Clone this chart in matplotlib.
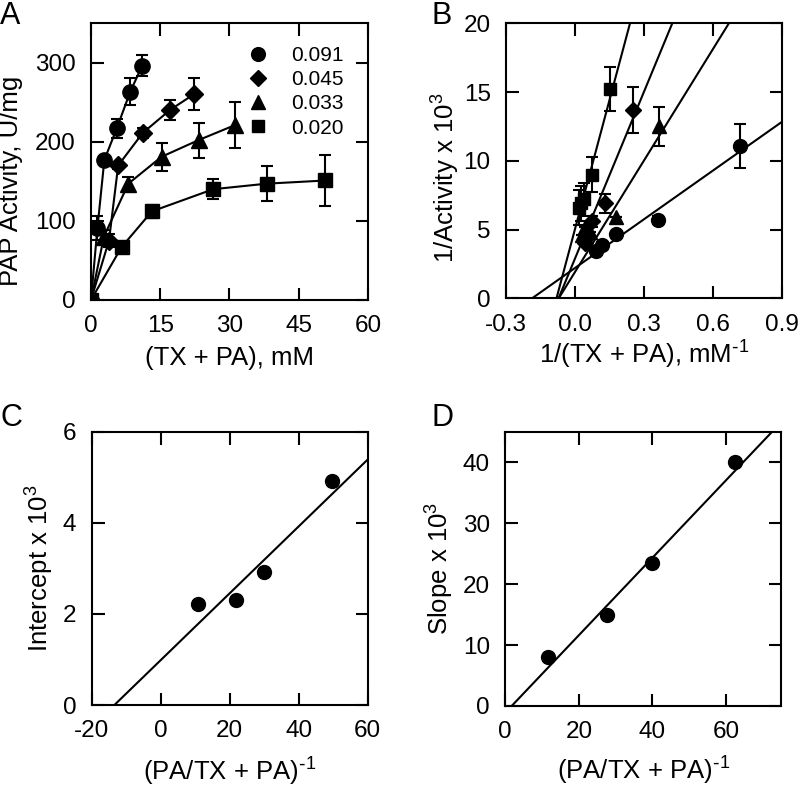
import matplotlib
matplotlib.use("Agg")
import matplotlib.pyplot as plt
import numpy as np

plt.rcParams.update({
    "font.family": "Liberation Sans", "font.size": 17,
    "mathtext.default": "regular",
    "axes.unicode_minus": False,
    "axes.linewidth": 1.5,
    "xtick.direction": "in", "ytick.direction": "in",
    "xtick.top": True, "ytick.right": True,
    "xtick.major.size": 9, "ytick.major.size": 9,
    "xtick.major.width": 1.5, "ytick.major.width": 1.5,
    "xtick.major.pad": 11, "ytick.major.pad": 11,
    "xtick.labelsize": 17.5, "ytick.labelsize": 17.5,
})

# ---- panel A: activity vs (TX + PA)
LEGEND = ["0.091", "0.045", "0.033", "0.020"]
MARKS = ["o", "D", "^", "s"]
MSIZE = [11, 9, 11, 10]

a_x = [
    [0, 1.4, 2.9, 5.6, 8.5, 11.1],
    [0, 3.9, 5.9, 11.2, 17.1, 22.3],
    [0, 2.8, 8.1, 15.3, 23.3, 31.2],
    [0, 6.65, 13.2, 26.5, 38.1, 50.8],
]
a_y = [
    [0, 91, 177, 217, 263, 296],
    [0, 75, 170, 211, 240, 260],
    [0, 80, 147, 181, 202, 221],
    [0, 67, 112, 140, 147, 151],
]
a_err = [
    [0, 15, 4, 12, 17, 13],
    [0, 8, 5, 6, 13, 20],
    [0, 8, 8, 18, 22, 29],
    [0, 5, 8, 13, 22, 32],
]

# ---- panel B: double reciprocal
b_x = [
    [0.09, 0.12, 0.18, 0.36, 0.72],
    [0.045, 0.058, 0.075, 0.13, 0.255],
    [0.032, 0.043, 0.065, 0.18, 0.365],
    [0.02, 0.026, 0.038, 0.076, 0.152],
]
b_y = [
    [3.45, 3.85, 4.7, 5.7, 11.1],
    [4.0, 4.5, 5.6, 6.9, 13.7],
    [4.6, 5.2, 4.8, 5.95, 12.5],
    [6.6, 6.9, 7.2, 9.0, 15.2],
]
b_err = [
    [0, 0, 0, 0.3, 1.6],
    [0, 0, 0.4, 0.7, 1.7],
    [0, 0, 0, 0, 1.4],
    [1.3, 1.3, 1.2, 1.3, 1.6],
]
# fitted lines: (intercept, slope)
b_fit = [(2.2, 11.8), (2.87, 40.4), (1.9, 27.0), (5.0, 62.5)]

# ---- panel C: intercept replot
c_x = [10.9, 21.8, 29.95, 49.6]
c_y = [2.21, 2.30, 2.91, 4.92]
c_fit = (0.985, 0.0734)

# ---- panel D: slope replot
d_x = [11.75, 27.7, 39.8, 62.6]
d_y = [8.1, 15.0, 23.4, 40.0]
d_fit = (-1.1, 0.635)

fig = plt.figure(figsize=(7.98, 7.88), dpi=100)
axA = fig.add_axes([0.114, 0.6193, 0.347, 0.3515])
axB = fig.add_axes([0.634, 0.6214, 0.3455, 0.349])
axC = fig.add_axes([0.1149, 0.1053, 0.3459, 0.3469])
axD = fig.add_axes([0.6332, 0.1041, 0.3455, 0.3481])

ebkw = dict(color="black", ecolor="black", elinewidth=1.5, capsize=4,
            capthick=1.5, linewidth=1.5)
LBL = 18.5
SUP = r"$^{\text{-}1}$"

# A
for xs, ys, es, m, ms, lab in zip(a_x, a_y, a_err, MARKS, MSIZE, LEGEND):
    axA.errorbar(xs, ys, yerr=es, fmt="-" + m, markersize=ms, **ebkw)
    axA.plot([], [], m, color="black", markersize=ms * 0.9, label=lab)
axA.set_xlim(0, 60)
axA.set_ylim(0, 350)
axA.set_xticks([0, 15, 30, 45, 60])
axA.set_yticks([0, 100, 200, 300])
axA.set_xlabel("(TX + PA), mM", fontsize=LBL)
axA.set_ylabel("PAP Activity, U/mg", fontsize=LBL)
axA.xaxis.set_label_coords(0.5, -0.166)
axA.yaxis.set_label_coords(-0.245, 0.43)
axA.legend(loc="upper right", frameon=False, fontsize=15, handletextpad=0.6,
           labelspacing=0.25, borderaxespad=0.3, bbox_to_anchor=(0.965, 0.97))

# B
xx = np.array([-0.3, 0.9])
for (b0, b1) in b_fit:
    axB.plot(xx, b0 + b1 * xx, color="black", linewidth=1.5)
for xs, ys, es, m, ms in zip(b_x, b_y, b_err, MARKS, MSIZE):
    axB.errorbar(xs, ys, yerr=es, fmt=m, markersize=ms - 1, **ebkw)
axB.set_xlim(-0.3, 0.9)
axB.set_ylim(0, 20)
axB.set_xticks([-0.3, 0.0, 0.3, 0.6, 0.9])
axB.set_xticklabels(["-0.3", "0.0", "0.3", "0.6", "0.9"])
axB.set_yticks([0, 5, 10, 15, 20])
axB.set_xlabel("1/(TX + PA), mM" + SUP, fontsize=LBL)
axB.set_ylabel("1/Activity x 10$^3$", fontsize=LBL)
axB.xaxis.set_label_coords(0.5, -0.146)
axB.yaxis.set_label_coords(-0.16, 0.437)

# C
xx = np.array([-20, 60])
axC.plot(xx, c_fit[0] + c_fit[1] * xx, color="black", linewidth=1.5)
axC.plot(c_x, c_y, "o", color="black", markersize=10)
axC.set_xlim(-20, 60)
axC.set_ylim(0, 6)
axC.set_xticks([-20, 0, 20, 40, 60])
axC.set_yticks([0, 2, 4, 6])
axC.set_xlabel("(PA/TX + PA)" + SUP, fontsize=LBL)
axC.set_ylabel("Intercept x 10$^3$", fontsize=LBL)
axC.xaxis.set_label_coords(0.5, -0.185)
axC.yaxis.set_label_coords(-0.13, 0.5)

# D
xx = np.array([0, 75])
axD.plot(xx, d_fit[0] + d_fit[1] * xx, color="black", linewidth=1.5)
axD.plot(d_x, d_y, "o", color="black", markersize=10)
axD.set_xlim(0, 75)
axD.set_ylim(0, 45)
axD.set_xticks([0, 20, 40, 60])
axD.set_yticks([0, 10, 20, 30, 40])
axD.set_xlabel("(PA/TX + PA)" + SUP, fontsize=LBL)
axD.set_ylabel("Slope x 10$^3$", fontsize=LBL)
axD.xaxis.set_label_coords(0.5, -0.178)
axD.yaxis.set_label_coords(-0.178, 0.5)

for txt, (x, y) in zip("ABCD", [(0.0, 0.999), (0.541, 0.999),
                                (0.0, 0.488), (0.541, 0.488)]):
    fig.text(x, y, txt, fontsize=22, ha="left", va="top")

fig.savefig("out.png", dpi=100)
